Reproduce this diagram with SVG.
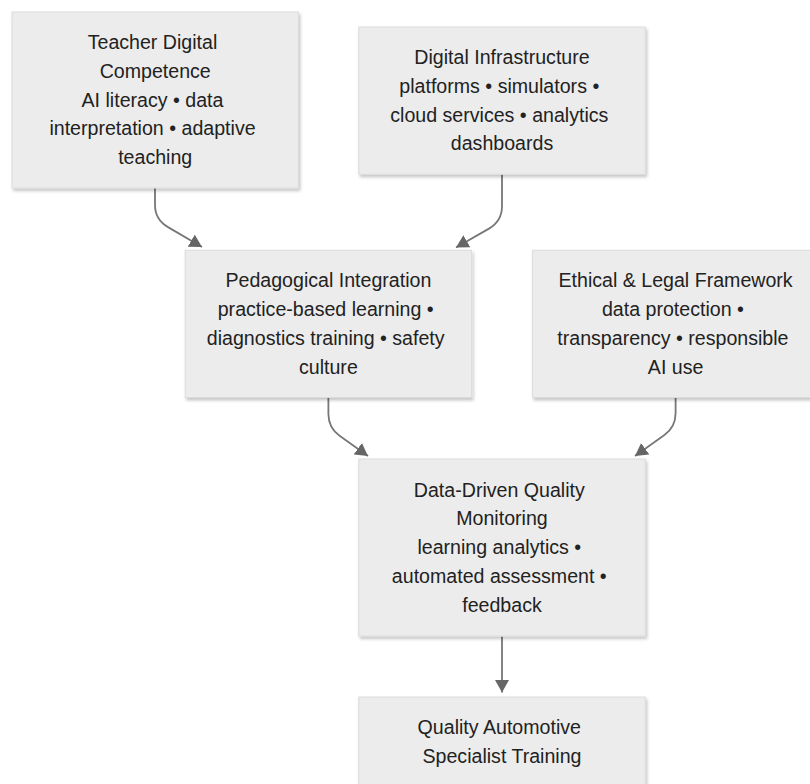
<svg xmlns="http://www.w3.org/2000/svg" width="810" height="784" viewBox="0 0 810 784">
<style>
.box{fill:#ececec;stroke:#dcdcdc;stroke-width:1;filter:url(#sh)}
.t{font-family:"Liberation Sans",Arial,Helvetica,sans-serif;font-size:19.6px;fill:#222;text-anchor:middle}
.e{fill:none;stroke:#777;stroke-width:1.8}
</style>
<defs>
<filter id="sh" x="-10%" y="-10%" width="120%" height="130%">
<feDropShadow dx="1.5" dy="2.5" stdDeviation="1.5" flood-color="#000" flood-opacity="0.22"/>
</filter>
<marker id="ah" viewBox="0 0 12.5 14" markerWidth="12.5" markerHeight="14" refX="12.5" refY="7" orient="auto" markerUnits="userSpaceOnUse">
<path d="M0,0 L12.5,7 L0,14 z" fill="#666"/>
</marker>
</defs>
<rect width="810" height="784" fill="#fff"/>
<g id="connectors">
<path class="e" marker-end="url(#ah)" d="M155,188 L155,205 Q155,219.6 168,227.1 L202,247"/>
<path class="e" marker-end="url(#ah)" d="M502,174.5 L502,206 Q502,221.1 489,228.6 L456,247.5"/>
<path class="e" marker-end="url(#ah)" d="M328.4,397.5 L328.4,414 Q328.4,428 339.9,436 L368,456"/>
<path class="e" marker-end="url(#ah)" d="M675.6,397.5 L675.6,413 Q675.6,427.3 664.1,435.3 L635,456"/>
<path class="e" marker-end="url(#ah)" d="M502,636.5 L502,692.5"/>
</g>
<g id="teacher">
<rect class="box" x="12" y="12" width="286.4" height="176"/>
<text class="t" x="152.5" y="49">Teacher Digital</text>
<text class="t" x="155.2" y="77.8">Competence</text>
<text class="t" x="152.5" y="106.6">AI literacy • data</text>
<text class="t" x="152.5" y="135.4">interpretation • adaptive</text>
<text class="t" x="155.2" y="164.2">teaching</text>
</g>
<g id="infra">
<rect class="box" x="358.8" y="27" width="286.4" height="147.2"/>
<text class="t" x="502" y="64">Digital Infrastructure</text>
<text class="t" x="499.3" y="92.8">platforms • simulators •</text>
<text class="t" x="499.3" y="121.6">cloud services • analytics</text>
<text class="t" x="502" y="150.4">dashboards</text>
</g>
<g id="pedagogy">
<rect class="box" x="185.2" y="250.3" width="286.4" height="147.2"/>
<text class="t" x="328.4" y="287.4">Pedagogical Integration</text>
<text class="t" x="325.7" y="316.2">practice-based learning •</text>
<text class="t" x="325.7" y="345">diagnostics training • safety</text>
<text class="t" x="328.4" y="373.8">culture</text>
</g>
<g id="ethics">
<rect class="box" x="532.4" y="250.3" width="286.4" height="147.2"/>
<text class="t" x="675.6" y="287.4">Ethical &amp; Legal Framework</text>
<text class="t" x="672.9" y="316.2">data protection •</text>
<text class="t" x="672.9" y="345">transparency • responsible</text>
<text class="t" x="675.6" y="373.8">AI use</text>
</g>
<g id="monitoring">
<rect class="box" x="358.8" y="459" width="286.4" height="177"/>
<text class="t" x="499.3" y="496.5">Data-Driven Quality</text>
<text class="t" x="502" y="525.3">Monitoring</text>
<text class="t" x="499.3" y="554.1">learning analytics •</text>
<text class="t" x="499.3" y="582.9">automated assessment •</text>
<text class="t" x="502" y="611.7">feedback</text>
</g>
<g id="outcome">
<rect class="box" x="358.8" y="697" width="286.4" height="89.6"/>
<text class="t" x="499.3" y="734">Quality Automotive</text>
<text class="t" x="502" y="762.8">Specialist Training</text>
</g>
</svg>
